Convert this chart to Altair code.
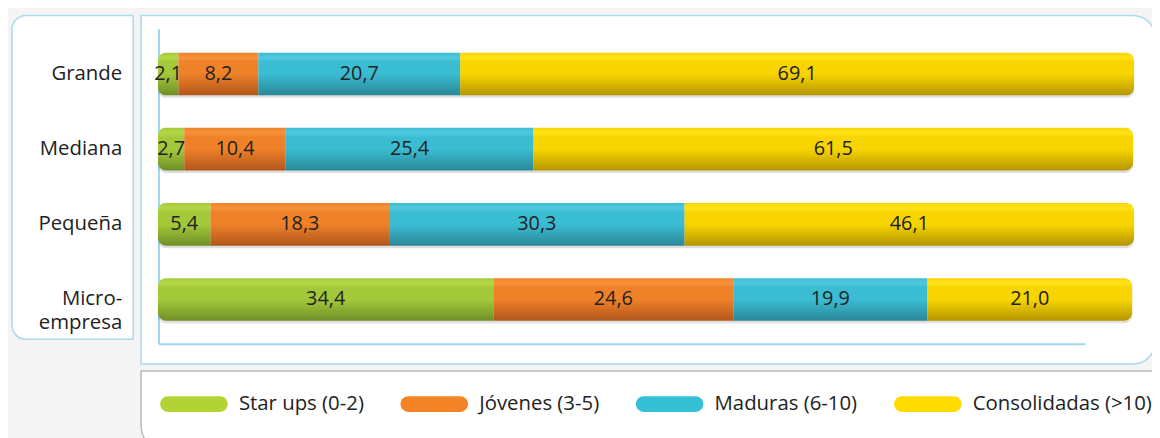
import altair as alt
import pandas as pd

categories = ["Grande", "Mediana", "Pequeña", "Micro-\nempresa"]
series = ["Star ups (0-2)", "Jóvenes (3-5)", "Maduras (6-10)", "Consolidadas (>10)"]
star_ups = [2.1, 2.7, 5.4, 34.4]
jovenes = [8.2, 10.4, 18.3, 24.6]
maduras = [20.7, 25.4, 30.3, 19.9]
consolidadas = [69.1, 61.5, 46.1, 21.0]

flat_colors = ["#b3d335", "#f58426", "#35c0d6", "#ffdc00"]
grad_colors = [
    ("#b5d848", "#a3c93a", "#6f8e26"),
    ("#f6933c", "#ef8129", "#b0561b"),
    ("#52c9dd", "#3abdd3", "#2a8797"),
    ("#ffe21a", "#f8d500", "#b49500"),
]

rows = []
for vals, s_i in zip([star_ups, jovenes, maduras, consolidadas], range(4)):
    for c, v in zip(categories, vals):
        rows.append({"cat": c, "series": series[s_i], "order": s_i, "value": v})
df = pd.DataFrame(rows)

FONT = "Open Sans"
xscale = alt.Scale(domain=[0, 100], range=[151, 1133], nice=False, zero=False)
yscale = alt.Scale(domain=categories, range=[43.5, 313.5], paddingInner=0.432, paddingOuter=0)

base = alt.Chart(df).transform_stack(
    stack="value", as_=["x0", "x1"], groupby=["cat"], sort=[alt.SortField("order")]
)

Y = alt.Y("cat:N", scale=yscale, axis=None, sort=categories)

# decorative frames
one = pd.DataFrame({"k": [0]})
bg_left = alt.Chart(one).mark_rect(
    fill="white", stroke="#a9daee", strokeWidth=1.5,
    cornerRadiusTopLeft=14, cornerRadiusBottomLeft=14
).encode(x=alt.value(4), x2=alt.value(126), y=alt.value(6), y2=alt.value(332))
bg_plot = alt.Chart(one).mark_rect(
    fill="white", stroke="#a9daee", strokeWidth=1.5,
    cornerRadiusTopRight=22, cornerRadiusBottomRight=22
).encode(x=alt.value(134), x2=alt.value(1155), y=alt.value(6), y2=alt.value(357))
bg_legend = alt.Chart(one).mark_rect(
    fill="white", stroke="#b8b8b8", strokeWidth=1.5,
    cornerRadiusBottomLeft=26, cornerRadiusBottomRight=26
).encode(x=alt.value(134), x2=alt.value(1160), y=alt.value(364), y2=alt.value(445))
axis_left = alt.Chart(one).mark_rule(color="#9fd5ec", strokeWidth=2).encode(
    x=alt.value(152), y=alt.value(20), y2=alt.value(337))
axis_bottom = alt.Chart(one).mark_rule(color="#9fd5ec", strokeWidth=2).encode(
    x=alt.value(152), x2=alt.value(1085), y=alt.value(337))

shadow = alt.Chart(df).transform_aggregate(
    total="sum(value)", groupby=["cat"]
).transform_calculate(start="0").mark_bar(
    color="#000000", opacity=0.13, cornerRadius=8, yOffset=2.5
).encode(x=alt.X("start:Q", scale=xscale, axis=None), x2="total:Q", y=Y)

layers = []
for i, s in enumerate(series):
    top, mid, bot = grad_colors[i]
    grad = alt.Gradient(
        gradient="linear", x1=0, x2=0, y1=0, y2=1,
        stops=[
            alt.GradientStop(color=mid, offset=0),
            alt.GradientStop(color=top, offset=0.12),
            alt.GradientStop(color=mid, offset=0.22),
            alt.GradientStop(color=mid, offset=0.5),
            alt.GradientStop(color=bot, offset=1),
        ],
    )
    kw = {}
    if i == 0:
        kw = dict(cornerRadiusTopLeft=8, cornerRadiusBottomLeft=8)
    elif i == len(series) - 1:
        kw = dict(cornerRadiusTopRight=8, cornerRadiusBottomRight=8)
    layers.append(
        base.transform_filter(alt.datum.series == s).mark_bar(fill=grad, **kw).encode(
            x=alt.X("x0:Q", scale=xscale, axis=None), x2="x1:Q", y=Y
        )
    )

pill = "M-3.25,-1L3.25,-1A1,1 0 0 1 3.25,1L-3.25,1A1,1 0 0 1 -3.25,-1Z"
legend_layer = base.mark_square(size=0, opacity=1).encode(
    x=alt.X("x0:Q", scale=xscale, axis=None),
    y=Y,
    color=alt.Color(
        "series:N",
        scale=alt.Scale(domain=series, range=flat_colors),
        sort=series,
        legend=alt.Legend(
            title=None, orient="none", legendX=177, legendY=387,
            direction="horizontal", columns=4,
            symbolType=pill, symbolSize=256, symbolStrokeWidth=0, symbolOpacity=1,
            labelOffset=35, columnPadding=36, padding=0, labelLimit=400,
            labelFont=FONT, labelFontSize=20.5, labelColor="#222222",
        ),
    ),
)

value_text = base.transform_calculate(
    mid="(datum.x0 + datum.x1) / 2",
    label="replace(format(datum.value, '.1f'), '.', ',')",
).mark_text(font=FONT, fontSize=20, color="#222222", baseline="middle").encode(
    x=alt.X("mid:Q", scale=xscale, axis=None), y=Y, text="label:N"
)

cat_df = pd.DataFrame({"cat": categories})
cat_text = alt.Chart(cat_df).mark_text(
    font=FONT, fontSize=20.5, color="#222222", align="right", baseline="middle",
    lineBreak="\n", lineHeight=24
).encode(x=alt.value(115), y=Y, text="cat:N")

chart = alt.layer(
    bg_left, bg_plot, bg_legend, axis_left, axis_bottom, shadow,
    *layers, legend_layer, value_text, cat_text
).properties(
    width=1152, height=430, padding=0, background="#f4f4f4",
    autosize=alt.AutoSizeParams(type="none"),
).configure_view(strokeWidth=0)

chart.save("out.html", embed_options={"renderer": "svg", "actions": False})
